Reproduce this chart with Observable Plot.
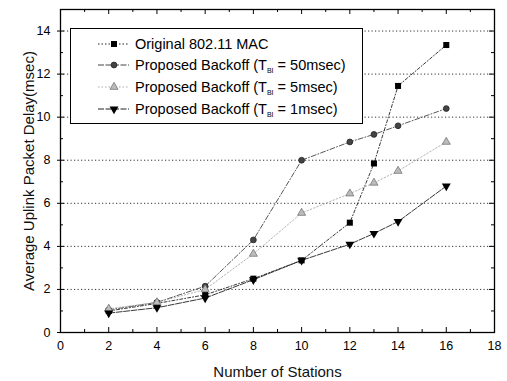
<!DOCTYPE html>
<html>
<head>
<meta charset="utf-8">
<script src="https://cdn.jsdelivr.net/npm/d3@7"></script>
<script src="https://cdn.jsdelivr.net/npm/@observablehq/plot@0.6"></script>
<style>
  html, body { margin: 0; padding: 0; background: #fff; }
  #wrap { position: relative; width: 507px; height: 381px; font-family: "Liberation Sans", Arial, sans-serif; }
  #legend { position: absolute; left: 70px; top: 28px; width: 291px; height: 94px; border: 1px solid #000; background: #fff; }
</style>
</head>
<body>
<div id="wrap"><div id="legend"></div></div>
<script>
// ---- data ----
const stations = [2, 4, 6, 8, 10, 12, 13, 14, 16];
const original = [1.0, 1.35, 1.75, 2.5, 3.35, 5.1, 7.85, 11.45, 13.35];
const backoff50 = [1.05, 1.4, 2.15, 4.3, 8.0, 8.85, 9.2, 9.6, 10.4];
const backoff5 = [1.1, 1.4, 2.0, 3.65, 5.55, 6.45, 6.95, 7.5, 8.85];
const backoff1 = [0.9, 1.15, 1.6, 2.45, 3.35, 4.1, 4.6, 5.15, 6.8];
const seriesNames = ["Original 802.11 MAC", "Proposed Backoff (T_BI = 50msec)", "Proposed Backoff (T_BI = 5msec)", "Proposed Backoff (T_BI = 1msec)"];
const xLabel = "Number of Stations";
const yLabel = "Average Uplink Packet Delay(msec)";
const xMajor = [0, 2, 4, 6, 8, 10, 12, 14, 16, 18];
const xMinor = [1, 3, 5, 7, 9, 11, 13, 15, 17];
const yMajor = [0, 2, 4, 6, 8, 10, 12, 14];
const yMinor = [1, 3, 5, 7, 9, 11, 13];
const yGrid = [2, 4, 6, 8, 10, 12, 14];

// ---- styles ----
const triangleDown = {
  draw(ctx, size) {
    const y = Math.sqrt(size / (Math.sqrt(3) * 3));
    ctx.moveTo(0, 2 * y);
    ctx.lineTo(-Math.sqrt(3) * y, -y);
    ctx.lineTo(Math.sqrt(3) * y, -y);
    ctx.closePath();
  }
};
const styles = [
  {stroke: "#222", dash: "3,2,1,2", symbol: "square", fill: "#000", mstroke: "none", r: 3.4},
  {stroke: "#444", dash: "5,2,1,2", symbol: "circle", fill: "#444", mstroke: "#222", r: 2.9},
  {stroke: "#aaa", dash: "1.5,2", symbol: "triangle", fill: "#bbb", mstroke: "#777", r: 3.0},
  {stroke: "#222", dash: "6,1.5", symbol: triangleDown, fill: "#000", mstroke: "none", r: 3.3}
];
const valueSets = [original, backoff50, backoff5, backoff1];
const rows = [];
valueSets.forEach((vals, si) => vals.forEach((v, i) => rows.push({s: si, x: stations[i], y: v})));

const W = 507, H = 381, mL = 60, mR = 13, mT = 9, mB = 49;
const innerW = W - mL - mR, innerH = H - mT - mB;

const lineMarks = [], dotMarks = [];
styles.forEach((st, si) => {
  const data = rows.filter(d => d.s === si);
  lineMarks.push(Plot.line(data, {x: "x", y: "y", stroke: st.stroke, strokeWidth: 0.9, strokeDasharray: st.dash}));
  dotMarks.push(Plot.dot(data, {x: "x", y: "y", symbol: st.symbol, r: st.r, fill: st.fill, stroke: st.mstroke, strokeWidth: 0.8}));
});

const chart = Plot.plot({
  width: W, height: H,
  marginLeft: mL, marginRight: mR, marginTop: mT, marginBottom: mB,
  style: {fontFamily: "Liberation Sans, Arial, sans-serif", fontSize: "12px", color: "#000", background: "#fff"},
  x: {domain: [0, 18]},
  y: {domain: [0, 15]},
  marks: [
    Plot.ruleY(yGrid, {y: d => d, stroke: "#333", strokeWidth: 1, strokeDasharray: "1.2,2.3"}),
    Plot.axisX(xMajor, {anchor: "bottom", tickSize: 0, tickPadding: 9, fontSize: 12.5, label: null}),
    Plot.axisY(yMajor, {anchor: "left", tickSize: 3, tickPadding: 7, fontSize: 12.5, label: null}),
    Plot.text([xLabel], {text: d => d, frameAnchor: "bottom", textAnchor: "middle", lineAnchor: "middle", dy: 40, fontSize: 15, fill: "#111"}),
    Plot.text([yLabel], {text: d => d, frameAnchor: "left", textAnchor: "middle", lineAnchor: "middle", rotate: -90, dx: -31, fontSize: 15, fill: "#111"}),
    // inward ticks
    Plot.tickX(xMajor, {x: d => d, insetTop: innerH - 5, stroke: "#000"}),
    Plot.tickX(xMinor, {x: d => d, insetTop: innerH - 3, stroke: "#000"}),
    Plot.tickX(xMajor, {x: d => d, insetBottom: innerH - 5, stroke: "#000"}),
    Plot.tickX(xMinor, {x: d => d, insetBottom: innerH - 3, stroke: "#000"}),
    Plot.tickY(yMajor, {y: d => d, insetRight: innerW - 4, stroke: "#000"}),
    Plot.tickY(yMinor, {y: d => d, insetRight: innerW - 3, stroke: "#000"}),
    Plot.tickY(yMajor, {y: d => d, insetLeft: innerW - 5, stroke: "#000"}),
    Plot.tickY(yMinor, {y: d => d, insetLeft: innerW - 3, stroke: "#000"}),
    ...lineMarks,
    ...dotMarks,
    Plot.frame({stroke: "#000", strokeWidth: 1.3})
  ]
});
const wrap = document.getElementById("wrap");
wrap.insertBefore(chart, wrap.firstChild);
chart.style.display = "block";

// ---- legend ----
const leg = d3.select("#legend").append("svg").attr("width", 291).attr("height", 94)
  .style("font-family", "Liberation Sans, Arial, sans-serif");
const rowY = [15, 36, 58, 80];
const symGen = st => {
  const type = typeof st.symbol === "string" ? ({square: d3.symbolSquare, circle: d3.symbolCircle, triangle: d3.symbolTriangle})[st.symbol] : st.symbol;
  return d3.symbol(type, Math.PI * st.r * st.r)();
};
styles.forEach((st, i) => {
  const g = leg.append("g").attr("transform", `translate(0,${rowY[i]})`);
  g.append("line").attr("x1", 27).attr("x2", 58).attr("y1", 0).attr("y2", 0)
    .attr("stroke", st.stroke).attr("stroke-dasharray", i === 0 || i === 2 ? "1.5,2" : "6,1.5");
  g.append("path").attr("d", symGen(st)).attr("transform", "translate(43,0)")
    .attr("fill", st.fill).attr("stroke", st.mstroke).attr("stroke-width", 0.8);
  const name = seriesNames[i];
  const t = g.append("text").attr("x", 64).attr("y", 5).attr("font-size", 14.5).attr("fill", "#000");
  const m = name.match(/^(.*\(T)_BI( = .*)$/);
  if (m) {
    t.append("tspan").text(m[1]);
    t.append("tspan").attr("font-size", 7).attr("dy", 3).text("BI");
    t.append("tspan").attr("dy", -3).text(" " + m[2].trimStart());
  } else {
    t.text(name);
  }
});
</script>
</body>
</html>
